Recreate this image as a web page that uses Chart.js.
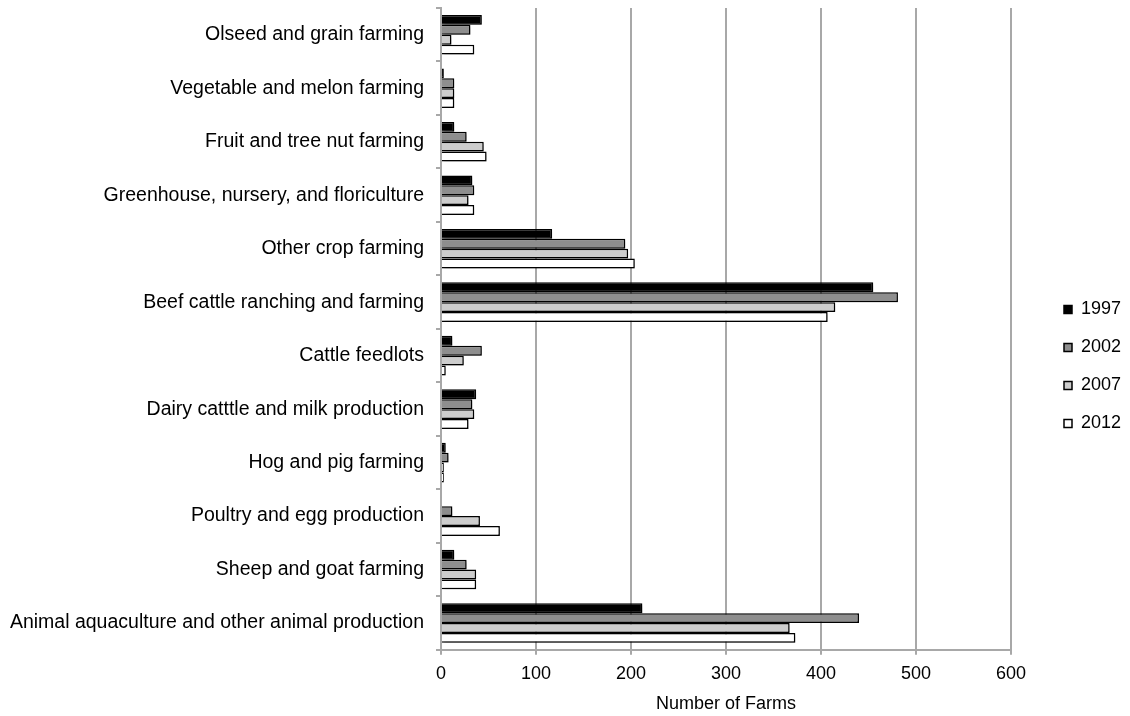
<!DOCTYPE html>
<html>
<head>
<meta charset="utf-8">
<script src="https://cdn.jsdelivr.net/npm/chart.js@4/dist/chart.umd.min.js"></script>
<style>
  html, body { margin: 0; padding: 0; background: #fff; }
  #wrap { width: 1130px; height: 716px; }
</style>
</head>
<body>
<div id="wrap"><canvas id="chart"></canvas></div>
<script>
// categorias (de cima para baixo)
const categories = [
  'Olseed and grain farming',
  'Vegetable and melon farming',
  'Fruit and tree nut farming',
  'Greenhouse, nursery, and floriculture',
  'Other crop farming',
  'Beef cattle ranching and farming',
  'Cattle feedlots',
  'Dairy catttle and milk production',
  'Hog and pig farming',
  'Poultry and egg production',
  'Sheep and goat farming',
  'Animal aquaculture and other animal production'
];

const years = ['1997', '2002', '2007', '2012'];

const farms1997 = [43, 3, 14, 33, 117, 455, 12, 37, 5, 1, 14, 212];
const farms2002 = [31, 14, 27, 35, 194, 481, 43, 33, 8, 12, 27, 440];
const farms2007 = [11, 14, 45, 29, 197, 415, 24, 35, 3, 41, 37, 367];
const farms2012 = [35, 14, 48, 35, 204, 407, 5, 29, 3, 62, 37, 373];

const xTicks = [0, 100, 200, 300, 400, 500, 600];

const fills = ['#000000', '#8e8e8e', '#cdcdcd', '#ffffff'];
const series = [farms1997, farms2002, farms2007, farms2012];
const gridGray = '#a8a8a8';

Chart.defaults.font.family = 'Liberation Sans, Arial, sans-serif';
Chart.defaults.font.size = 18;
Chart.defaults.color = '#000';

// sombra leve nas barras
const barShadow = {
  id: 'barShadow',
  beforeDatasetDraw(chart) {
    const ctx = chart.ctx;
    ctx.save();
    ctx.shadowColor = 'rgba(0,0,0,0.28)';
    ctx.shadowBlur = 3;
    ctx.shadowOffsetX = 2;
    ctx.shadowOffsetY = 2;
  },
  afterDatasetDraw(chart) {
    chart.ctx.restore();
  }
};

// empurra a legenda para a direita, longe do grafico
const legendShift = {
  id: 'legendShift',
  afterLayout(chart) {
    const lg = chart.legend;
    if (!lg) return;
    lg.left += 33;
    lg.right += 33;
    lg.top += 5;
    lg.bottom += 5;
  }
};

new Chart(document.getElementById('chart'), {
  type: 'bar',
  data: {
    labels: categories,
    datasets: years.map((y, i) => ({
      label: y,
      data: series[i],
      backgroundColor: fills[i],
      borderColor: '#000',
      borderWidth: 1.5,
      barPercentage: 1.0,
      categoryPercentage: 0.74
    }))
  },
  options: {
    indexAxis: 'y',
    responsive: true,
    maintainAspectRatio: false,
    animation: false,
    layout: { padding: { top: 8, right: 0, left: 0, bottom: 1 } },
    plugins: {
      legend: {
        position: 'right',
        labels: {
          boxWidth: 8,
          boxHeight: 8,
          padding: 20,
          color: '#000',
          font: { size: 18 },
          generateLabels(chart) {
            return chart.data.datasets.map((ds, i) => ({
              text: ds.label,
              fillStyle: ds.backgroundColor,
              strokeStyle: '#000',
              lineWidth: 1.5,
              datasetIndex: i
            }));
          }
        }
      },
      tooltip: { enabled: false }
    },
    scales: {
      x: {
        min: 0,
        max: 600,
        afterBuildTicks(axis) {
          axis.ticks = xTicks.map(v => ({ value: v }));
        },
        afterFit(axis) {
          axis.paddingRight = 119;
        },
        grid: { color: gridGray, lineWidth: 2, tickLength: 5 },
        border: { display: true, color: gridGray, width: 2 },
        ticks: { padding: 8, font: { size: 18 } },
        title: {
          display: true,
          text: 'Number of Farms',
          font: { size: 18 },
          padding: { top: 1, bottom: 0 }
        }
      },
      y: {
        afterFit(axis) {
          axis.width = 441;
          axis.paddingTop = 0;
          axis.paddingBottom = 0;
        },
        grid: {
          offset: true,
          drawOnChartArea: false,
          color: gridGray,
          lineWidth: 2,
          tickLength: 5
        },
        border: { color: gridGray, width: 2 },
        ticks: { padding: 12, font: { size: 19.5 } }
      }
    }
  },
  plugins: [barShadow, legendShift]
});
</script>
</body>
</html>
